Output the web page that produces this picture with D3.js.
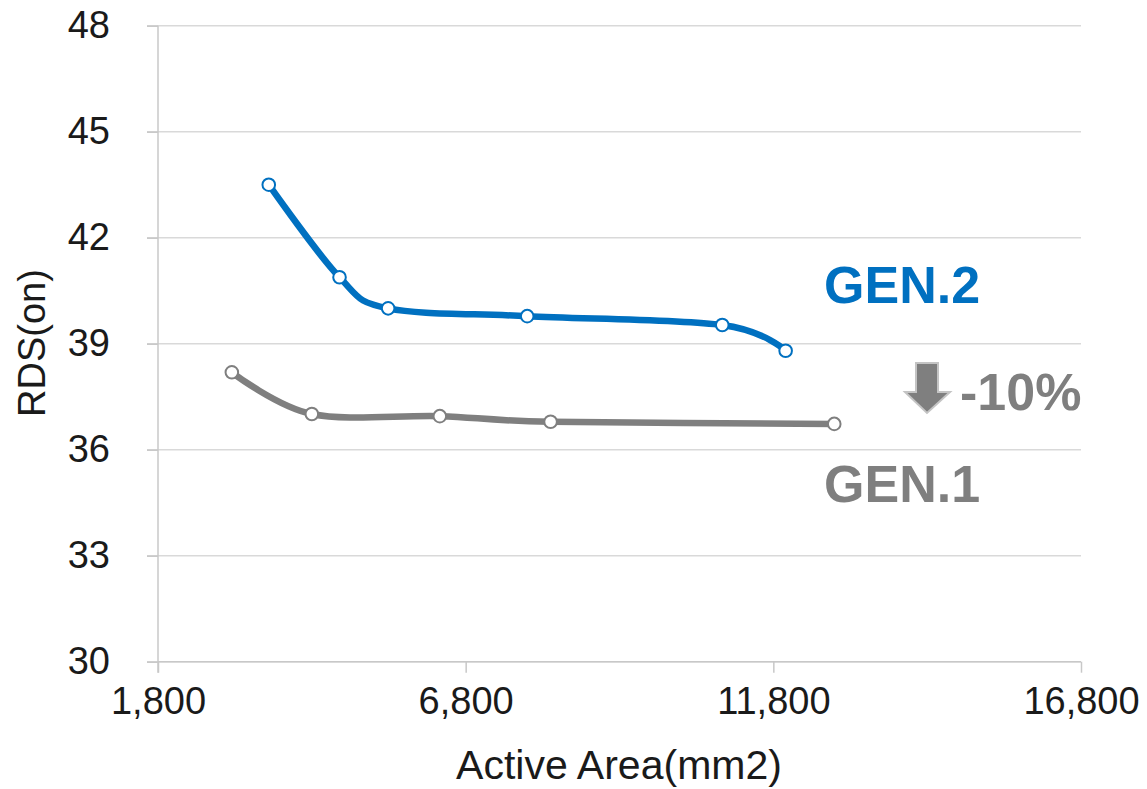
<!DOCTYPE html>
<html>
<head>
<meta charset="utf-8">
<script src="https://cdn.jsdelivr.net/npm/d3@7"></script>
<style>
  html, body { margin: 0; padding: 0; background: #fff; }
  svg { display: block; }
  text { font-family: "Liberation Sans", Arial, sans-serif; }
</style>
</head>
<body>
<svg id="chart" width="1147" height="789"></svg>
<script>
// Active area (mm2) and RDS(on) for each generation
const gen2Area = [3600, 4750, 5540, 7800, 10970, 12000];
const gen2Rds  = [43.5, 40.88, 40.0, 39.78, 39.53, 38.8];
const gen1Area = [3000, 4300, 6380, 8180, 12790];
const gen1Rds  = [38.19, 37.01, 36.95, 36.79, 36.73];

const xTicks = [1800, 6800, 11800, 16800];
const yTicks = [30, 33, 36, 39, 42, 45, 48];

const seriesNames = ["GEN.2", "GEN.1"];
const changeLabel = "-10%";
const xTitle = "Active Area(mm2)";
const yTitle = "RDS(on)";

const BLUE = "#0070C0";
const GRAY = "#7F7F7F";

const svg = d3.select("#chart");
const margin = { left: 158, top: 25.7, right: 1147 - 1081, bottom: 789 - 661.7 };
const W = 1147 - margin.left - margin.right;
const H = 789 - margin.top - margin.bottom;

const x = d3.scaleLinear().domain([1800, 16800]).range([0, W]);
const y = d3.scaleLinear().domain([30, 48]).range([H, 0]);

const g = svg.append("g").attr("transform", `translate(${margin.left},${margin.top})`);

// horizontal gridlines
g.append("g")
  .selectAll("line")
  .data(yTicks)
  .join("line")
  .attr("x1", -11).attr("x2", W)
  .attr("y1", d => y(d)).attr("y2", d => y(d))
  .attr("stroke", "#d9d9d9").attr("stroke-width", 1.5);

// y axis
const yAxis = g.append("g")
  .call(d3.axisLeft(y).tickValues(yTicks).tickSize(11).tickPadding(37).tickFormat(d3.format("d")));
yAxis.select(".domain").attr("stroke", "#c8c8c8").attr("stroke-width", 1.5)
  .attr("d", `M0,0V${H + 11}`);
yAxis.selectAll(".tick line").attr("stroke", "#c8c8c8").attr("stroke-width", 1.5);
yAxis.selectAll(".tick text")
  .attr("fill", "#1a1a1a").style("font-size", "38px");

// x axis
const xAxis = g.append("g")
  .attr("transform", `translate(0,${H})`)
  .call(d3.axisBottom(x).tickValues(xTicks).tickSize(11).tickPadding(14).tickFormat(d3.format(",")));
xAxis.select(".domain").attr("stroke", "#c8c8c8").attr("stroke-width", 1.5)
  .attr("d", `M0,0H${W}`);
xAxis.selectAll(".tick line").attr("stroke", "#c8c8c8").attr("stroke-width", 1.5);
xAxis.selectAll(".tick text")
  .attr("fill", "#1a1a1a").style("font-size", "38px");

// axis titles
svg.append("text")
  .attr("x", 619)
  .attr("y", 779)
  .attr("text-anchor", "middle")
  .attr("fill", "#1a1a1a")
  .style("font-size", "41px")
  .text(xTitle);

svg.append("text")
  .attr("transform", `translate(45,343) rotate(-90)`)
  .attr("text-anchor", "middle")
  .attr("fill", "#1a1a1a")
  .style("font-size", "38px")
  .text(yTitle);

// smoothed series lines with hollow markers
const line = d3.line()
  .x(d => x(d[0]))
  .y(d => y(d[1]))
  .curve(d3.curveCardinal.tension(0));

function drawSeries(areas, vals, color) {
  const pts = d3.zip(areas, vals);
  g.append("path")
    .datum(pts)
    .attr("d", line)
    .attr("fill", "none")
    .attr("stroke", color)
    .attr("stroke-width", 6.5)
    .attr("stroke-linejoin", "round")
    .attr("stroke-linecap", "round");
  g.append("g")
    .selectAll("circle")
    .data(pts)
    .join("circle")
    .attr("cx", d => x(d[0]))
    .attr("cy", d => y(d[1]))
    .attr("r", 6.3)
    .attr("fill", "#fff")
    .attr("stroke", color)
    .attr("stroke-width", 2);
}

drawSeries(gen1Area, gen1Rds, GRAY);
drawSeries(gen2Area, gen2Rds, BLUE);

// series labels
svg.append("text")
  .attr("x", 824).attr("y", 303)
  .attr("fill", BLUE)
  .style("font-size", "52px").style("font-weight", "bold")
  .text(seriesNames[0]);

svg.append("text")
  .attr("x", 824).attr("y", 502)
  .attr("fill", GRAY)
  .style("font-size", "52px").style("font-weight", "bold")
  .text(seriesNames[1]);

// downward arrow and reduction label
const arrow = [[916, 363], [938, 363], [938, 392], [950, 392], [927, 413], [905, 392], [916, 392]];
svg.append("path")
  .attr("d", "M" + arrow.map(p => p.join(",")).join("L") + "Z")
  .attr("fill", GRAY)
  .attr("stroke", "#c4c4c4")
  .attr("stroke-width", 2)
  .attr("stroke-linejoin", "miter");

svg.append("text")
  .attr("x", 960).attr("y", 410)
  .attr("fill", GRAY)
  .style("font-size", "52px").style("font-weight", "bold")
  .text(changeLabel);
</script>
</body>
</html>
